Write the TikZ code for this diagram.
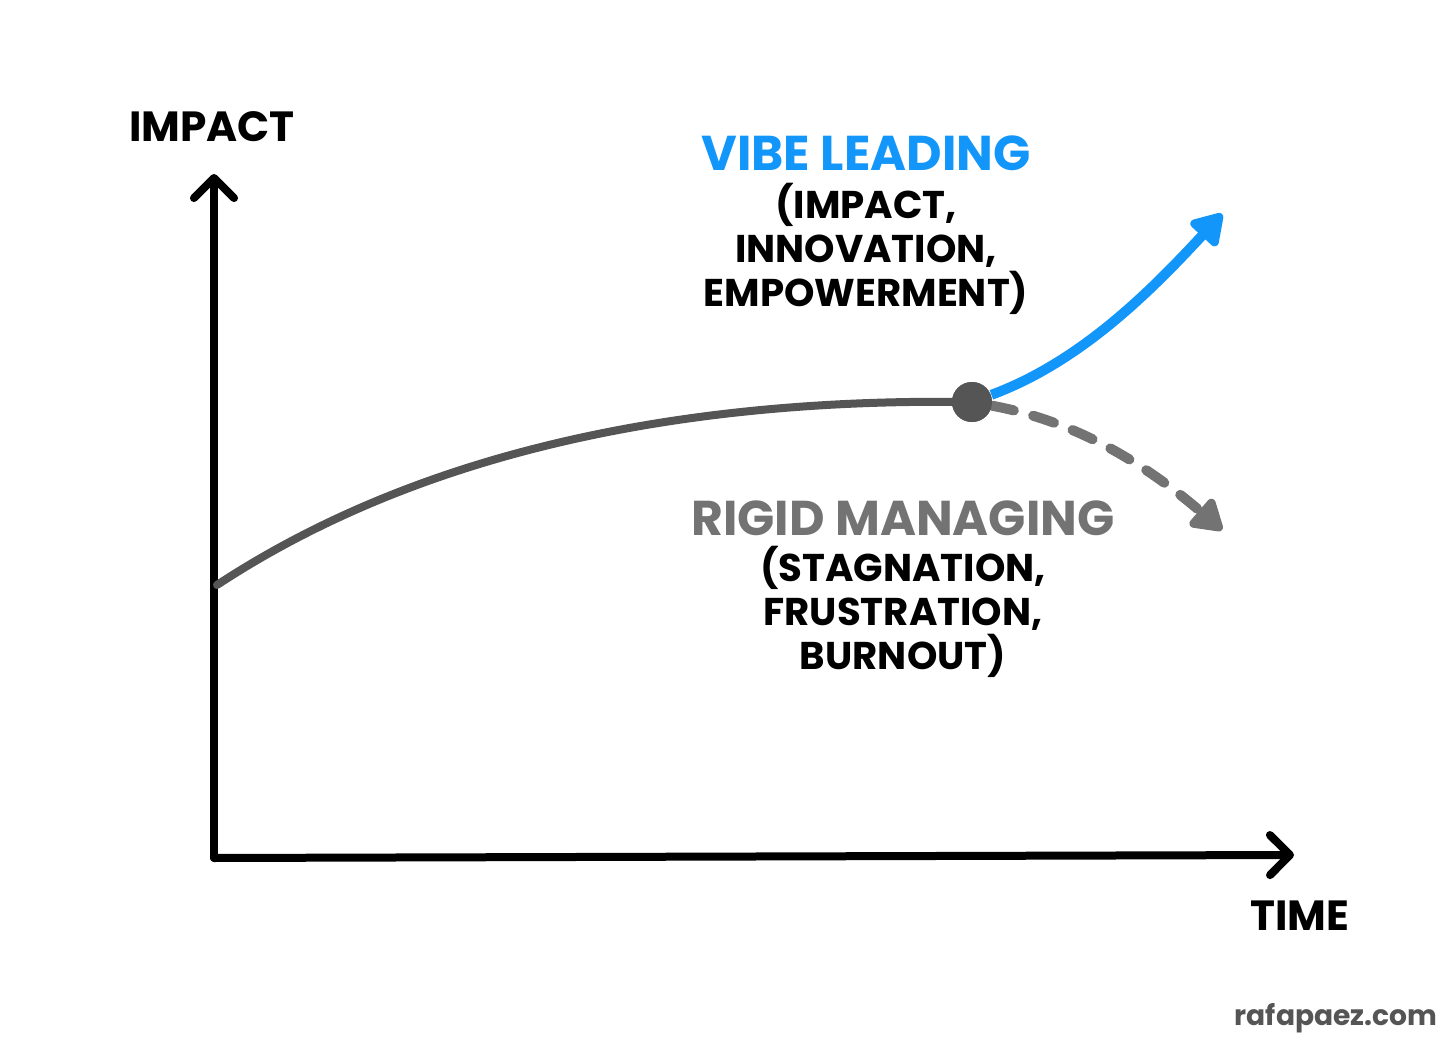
\documentclass[tikz,border=0pt]{standalone}
\usepackage{fontspec}
\setmainfont{Poppins}
\usetikzlibrary{arrows.meta}
\newlength{\du}
\setlength{\du}{0.01cm}
\definecolor{vibeblue}{RGB}{18,150,250}
\definecolor{rigidgray}{RGB}{115,115,115}
\definecolor{curvegray}{RGB}{85,85,85}
\tikzset{
  axisline/.style={line width=8\du, line cap=round, line join=round,
    -{Straight Barb[round,length=5.7pt,width=11.4pt]}},
  trendtip/.style={-{Triangle[round,length=9.7pt,width=11.4pt]}},
  axislabel/.style={font=\bfseries\fontsize{12}{12.5}\selectfont, inner sep=0pt},
  biglabel/.style={font=\bfseries\fontsize{13.9}{15}\selectfont, inner sep=0pt},
  smalllabel/.style={font=\bfseries\fontsize{11}{12.5}\selectfont, align=center, inner sep=0pt},
}

\begin{document}
\begin{tikzpicture}
\pgftransformxscale{1.000000}
\pgftransformyscale{-1.000000}
\useasboundingbox (0\du,0\du) rectangle (1456\du,1048\du);
% axes
\coordinate (origin) at (214\du,858\du);
\coordinate (ytop) at (214\du,174\du);
\coordinate (xend) at (1294\du,855\du);
\draw[axisline] (origin) -- (ytop);
\draw[axisline] (origin) -- (xend);
\node[axislabel] (impact) at (212\du,127\du){IMPACT};
\node[axislabel] (time) at (1300\du,916\du){TIME};
% main curve
\coordinate (start) at (217\du,585\du);
\node[circle, fill=curvegray, minimum size=40\du, inner sep=0pt] (turn) at (972\du,402\du){};
\coordinate (vibeend) at (1222\du,214\du);
\coordinate (rigidend) at (1222\du,530\du);
\draw[curvegray, line width=8\du, line cap=round] (start) .. controls (430\du,445\du) and (700\du,398\du) .. (turn.center);
\draw[vibeblue, line width=10\du, trendtip] (turn) .. controls (1080\du,362\du) and (1150\du,292\du) .. (vibeend);
\draw[rigidgray, line width=10\du, line cap=round, dash pattern=on 22\du off 20\du, trendtip] (turn) .. controls (1080\du,422\du) and (1150\du,468\du) .. (rigidend);
\node[circle, fill=curvegray, minimum size=40\du, inner sep=0pt] at (turn){};
% labels
\node[biglabel, text=vibeblue] (vibe) at (866\du,153\du){VIBE LEADING};
\node[smalllabel] (vibenote) at (866\du,249\du){(IMPACT,\\INNOVATION,\\EMPOWERMENT)};
\node[biglabel, text=rigidgray] (rigid) at (903\du,518\du){RIGID MANAGING};
\node[smalllabel] (rigidnote) at (903\du,612\du){(STAGNATION,\\FRUSTRATION,\\BURNOUT)};
\node[font=\bfseries\fontsize{8}{9}\selectfont, text=curvegray, inner sep=0pt] (site) at (1336\du,1018\du){rafapaez.com};
\end{tikzpicture}
\end{document}
